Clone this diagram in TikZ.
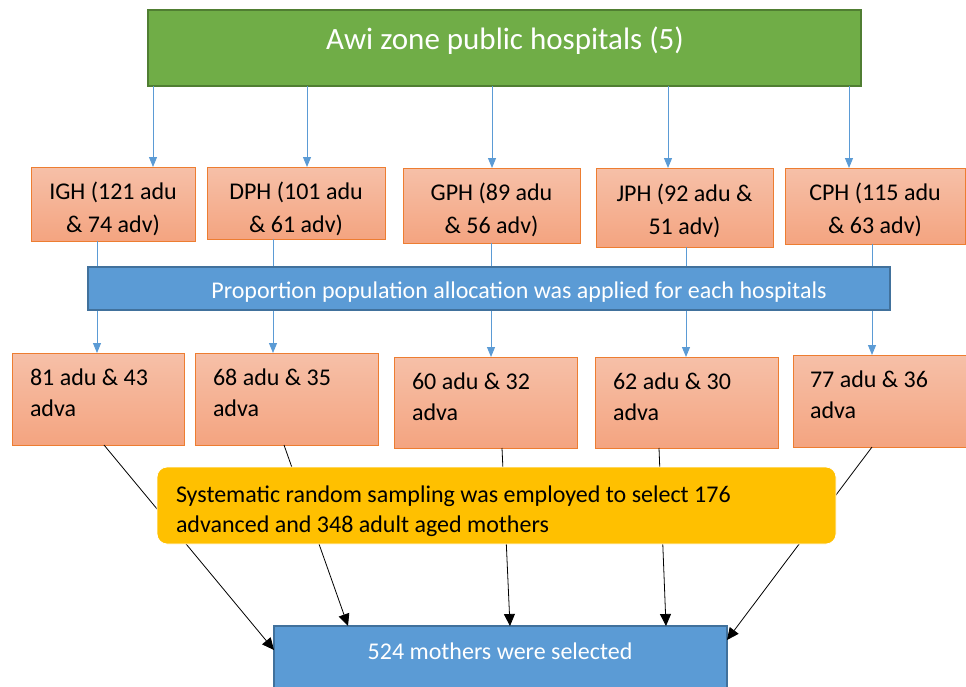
\documentclass[tikz,border=0pt]{standalone}
\usepackage{fontspec}
\setmainfont{Carlito}
\usetikzlibrary{arrows.meta}
\definecolor{gfill}{HTML}{70AD47}
\definecolor{gline}{HTML}{507E32}
\definecolor{bfill}{HTML}{5B9BD5}
\definecolor{bline}{HTML}{41719C}
\definecolor{otop}{RGB}{246,192,168}
\definecolor{obot}{RGB}{244,164,128}
\definecolor{oline}{HTML}{ED7D31}
\definecolor{yfill}{HTML}{FFC000}
\tikzset{
  boxbase/.style={rectangle, inner sep=0pt, outer sep=0pt},
  gbox/.style={boxbase, fill=gfill, draw=gline, line width=1.5pt},
  bbox/.style={boxbase, fill=bfill, draw=bline, line width=1.5pt},
  obox/.style={boxbase, top color=otop, bottom color=obot, draw=oline, line width=1pt},
  ybox/.style={boxbase, fill=yfill, draw=white, line width=0.8pt, rounded corners=10pt},
  txt/.style={inner sep=0pt, outer sep=0pt, font=\fontsize{24}{31}\selectfont},
  ctxt/.style={txt, align=center, font=\fontsize{24}{33}\selectfont},
  ltxt/.style={txt, align=left},
  barrow/.style={draw=bfill, line width=1pt, -{Triangle[length=10pt,width=8pt]}, fill=bfill},
  karrow/.style={draw=black, line width=0.8pt, -{Triangle[length=12pt,width=11pt]}},
}
\begin{document}
\begin{tikzpicture}[x=1pt,y=-1pt]
\useasboundingbox (0,0) rectangle (966,686);
% top box
\node[gbox, minimum width=713pt, minimum height=76pt] (g) at (504.5,48) {};
\node[txt, font=\fontsize{31}{37}\selectfont, text=white, anchor=base] (gt) at (505,49) {Awi zone public hospitals (5)};
% hospital boxes
\node[obox, minimum width=164pt, minimum height=74pt] (h1) at (113,204) {};
\node[obox, minimum width=178pt, minimum height=72pt] (h2) at (296,203) {};
\node[obox, minimum width=177pt, minimum height=75pt] (h3) at (491.5,205.5) {};
\node[obox, minimum width=177pt, minimum height=79pt] (h4) at (684.5,207.5) {};
\node[obox, minimum width=180pt, minimum height=76pt] (h5) at (875,206) {};
\node[ctxt, anchor=base] (h1t) at (113,232) {IGH (121 adu\\\& 74 adv)};
\node[ctxt, anchor=base] (h2t) at (296,232) {DPH (101 adu\\\& 61 adv)};
\node[ctxt, anchor=base] (h3t) at (491.5,233) {GPH (89 adu\\\& 56 adv)};
\node[ctxt, anchor=base] (h4t) at (684.5,234) {JPH (92 adu \&\\51 adv)};
\node[ctxt, anchor=base] (h5t) at (875,233) {CPH (115 adu\\\& 63 adv)};
% arrows green -> hospitals
\foreach \i/\x in {1/153,2/307,3/492,4/668,5/849}{
  \draw[barrow] (g.south -| \x,0) -- (h\i.north -| \x,0);
}
% second row boxes
\node[obox, minimum width=172pt, minimum height=92pt] (r1) at (98,399) {};
\node[obox, minimum width=183pt, minimum height=92pt] (r2) at (286.5,399) {};
\node[obox, minimum width=183pt, minimum height=91pt] (r3) at (485.5,402.5) {};
\node[obox, minimum width=183pt, minimum height=91pt] (r4) at (686.5,402.5) {};
\node[obox, minimum width=176pt, minimum height=92pt] (r5) at (881,401) {};
\node[ltxt, anchor=base west] (r1t) at (30,416) {81 adu \& 43\\adva};
\node[ltxt, anchor=base west] (r2t) at (213,416) {68 adu \& 35\\adva};
\node[ltxt, anchor=base west] (r3t) at (412,420) {60 adu \& 32\\adva};
\node[ltxt, anchor=base west] (r4t) at (613,420) {62 adu \& 30\\adva};
\node[ltxt, anchor=base west] (r5t) at (810,418) {77 adu \& 36\\adva};
% arrows hospitals -> second row (behind bar)
\foreach \i/\x in {1/97,2/273,3/491,4/686,5/872}{
  \draw[barrow] (h\i.south -| \x,0) -- (r\i.north -| \x,0);
}
% proportion bar
\node[bbox, minimum width=802pt, minimum height=43pt] (p) at (489,288.5) {};
\node[txt, text=white, anchor=base] (pt) at (519,298) {Proportion population allocation was applied for each hospitals};
% bottom box
\node[bbox, minimum width=453pt, minimum height=76pt] (s) at (500.5,664) {};
\node[txt, text=white, anchor=base] (st) at (500,659) {524 mothers were selected};
% black arrows (behind yellow box)
\draw[karrow] (r1.south -| 104,0) -- (s.west |- 0,650);
\draw[karrow] (r2.south -| 284,0) -- (s.north -| 348,0);
\draw[karrow] (r3.south -| 502,0) -- (s.north -| 510,0);
\draw[karrow] (r4.south -| 659,0) -- (s.north -| 666,0);
\draw[karrow] (r5.south -| 872,0) -- (s.east |- 0,640);
% yellow box
\node[ybox, minimum width=679pt, minimum height=77pt] (y) at (496.5,505.5) {};
\node[ltxt, anchor=base west, font=\fontsize{24}{30}\selectfont] (yt) at (176,532) {Systematic random sampling was employed to select 176\\advanced and 348 adult aged mothers};
\end{tikzpicture}
\end{document}
